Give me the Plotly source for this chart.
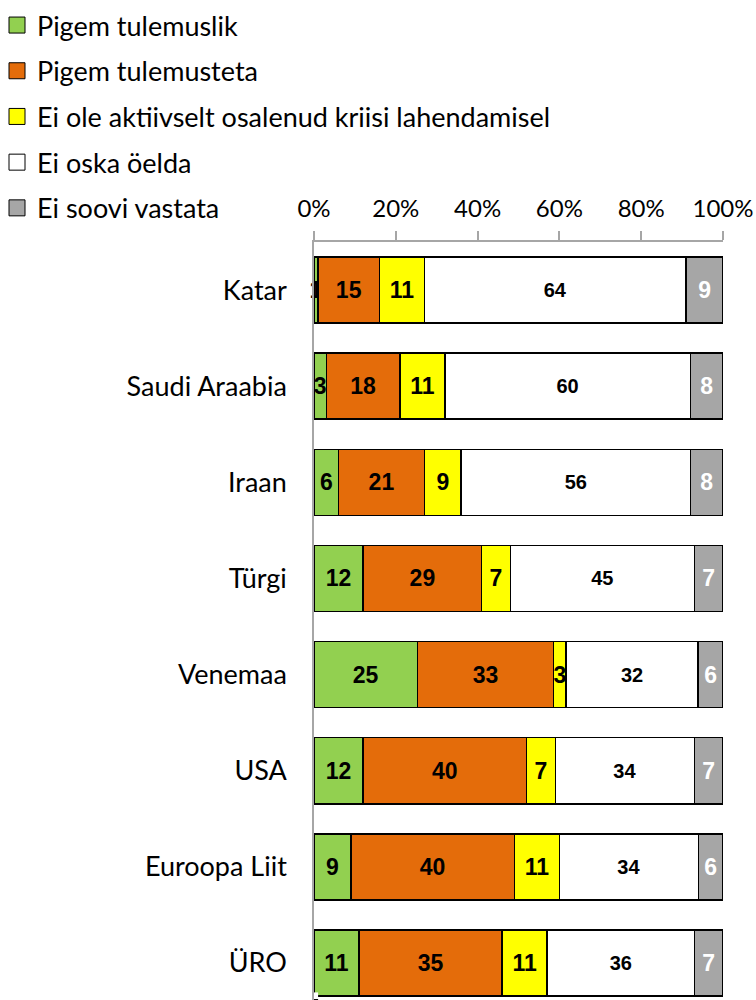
import plotly.graph_objects as go

categories = ["Katar", "Saudi Araabia", "Iraan", "Türgi", "Venemaa", "USA", "Euroopa Liit", "ÜRO"]
series_names = ["Pigem tulemuslik", "Pigem tulemusteta", "Ei ole aktiivselt osalenud kriisi lahendamisel",
                "Ei oska öelda", "Ei soovi vastata"]
pigem_tulemuslik = [1, 3, 6, 12, 25, 12, 9, 11]
pigem_tulemusteta = [15, 18, 21, 29, 33, 40, 40, 35]
ei_ole_aktiivselt = [11, 11, 9, 7, 3, 7, 11, 11]
ei_oska_oelda = [64, 60, 56, 45, 32, 34, 34, 36]
ei_soovi_vastata = [9, 8, 8, 7, 6, 7, 6, 7]
x_tick_vals = [0, 20, 40, 60, 80, 100]
x_tick_text = ["0%", "20%", "40%", "60%", "80%", "100%"]

series_values = [pigem_tulemuslik, pigem_tulemusteta, ei_ole_aktiivselt, ei_oska_oelda, ei_soovi_vastata]
colors = ["#92D050", "#E46C0A", "#FFFF00", "#FFFFFF", "#A6A6A6"]
text_colors = ["black", "black", "black", "black", "white"]
text_sizes = [23, 23, 23, 20, 23]

FONT = "Lato"
W, H = 756, 1000
L, R, T, B = 314, 33, 242, 0
PW, PH = W - L - R, H - T - B

fig = go.Figure()
for name, vals, col, tcol, tsz in zip(series_names, series_values, colors, text_colors, text_sizes):
    fig.add_trace(go.Bar(
        y=categories, x=vals, name=name, orientation="h",
        marker=dict(color=col, line=dict(color="black", width=1.5)),
        text=[str(v) for v in vals], texttemplate="%{text}",
        textposition="inside", insidetextanchor="middle", textangle=0,
        constraintext="none", cliponaxis=False,
        insidetextfont=dict(family="Liberation Sans", size=tsz, color=tcol, weight="bold"),
        showlegend=False, hoverinfo="skip",
    ))
# legend proxies on a hidden axis pair
for i, (name, col) in enumerate(zip(series_names, colors)):
    fig.add_trace(go.Scatter(
        x=[0], y=[0], mode="markers", name=name, legendgroup=f"g{i}",
        xaxis="x2", yaxis="y2", hoverinfo="skip",
        marker=dict(symbol="square", size=16, color=col, line=dict(color="black", width=1)),
        showlegend=True,
    ))

fig.update_layout(
    width=W, height=H,
    margin=dict(l=L, r=R, t=T, b=B, pad=0, autoexpand=False),
    barmode="stack", barnorm="percent", bargap=0.313,
    plot_bgcolor="white", paper_bgcolor="white",
    font=dict(family=FONT, size=26, color="black"),
    legend=dict(
        xref="paper", yref="paper",
        x=(-3 - L) / PW, y=(H - B - 1) / PH, xanchor="left", yanchor="top",
        traceorder="grouped", tracegroupgap=7.6, itemsizing="trace",
        font=dict(family=FONT, size=27, color="black"), bgcolor="rgba(0,0,0,0)",
    ),
    xaxis=dict(
        side="top", range=[0, 100.0005], tickvals=x_tick_vals, ticktext=x_tick_text,
        ticks="outside", ticklen=9, tickcolor="#A6A6A6", tickwidth=1.5, tickangle=0,
        ticklabelstandoff=5,
        showline=True, linecolor="#A6A6A6", linewidth=1.5, automargin=False,
        showgrid=False, zeroline=False, tickfont=dict(family=FONT, size=24, color="black"),
        fixedrange=True,
    ),
    yaxis=dict(
        categoryorder="array", categoryarray=categories,
        range=[7.385, -0.5], showline=True, linecolor="#A6A6A6", linewidth=1.5,
        ticks="", showgrid=False, zeroline=False, ticklabelstandoff=20, automargin=False,
        tickfont=dict(family=FONT, size=27, color="black"), fixedrange=True,
    ),
    xaxis2=dict(domain=[0, 0.01], range=[1, 2], visible=False, fixedrange=True, anchor="y2"),
    yaxis2=dict(domain=[0, 0.01], range=[1, 2], visible=False, fixedrange=True, anchor="x2"),
)
fig.write_html(
    "out.html",
    config={"displayModeBar": False},
    post_script="document.body.style.margin='0';document.body.style.overflow='hidden';",
)
